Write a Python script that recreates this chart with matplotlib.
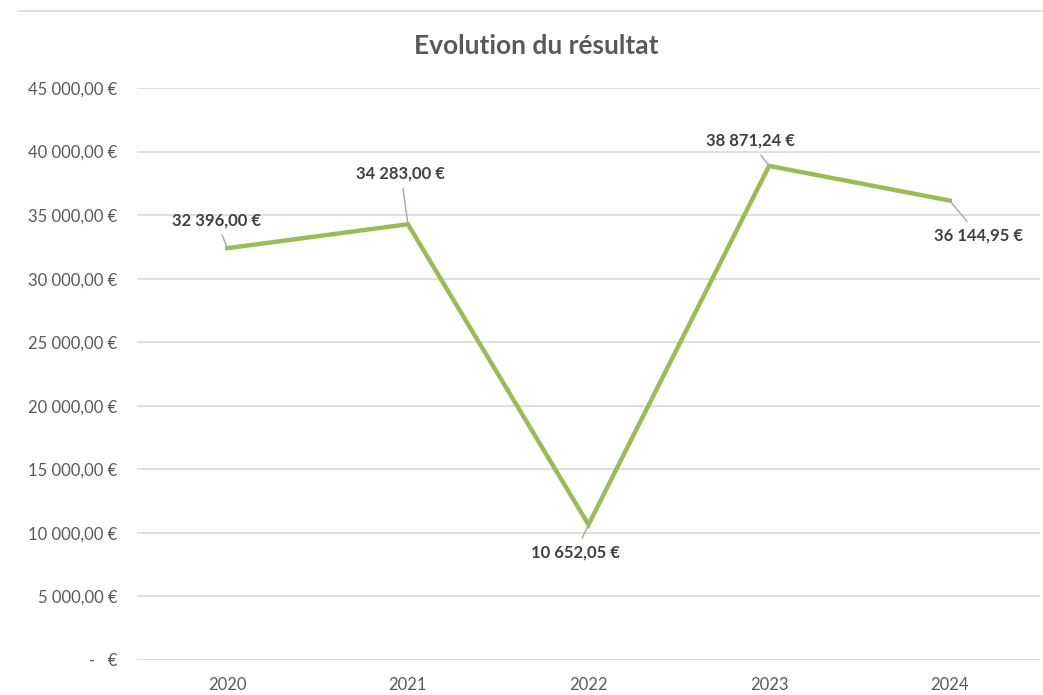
import matplotlib
matplotlib.use("Agg")
import matplotlib.pyplot as plt
from matplotlib.lines import Line2D

plt.rcParams['font.family'] = ['Lato', 'DejaVu Sans']

# data
years = ["2020", "2021", "2022", "2023", "2024"]
resultat = [32396.00, 34283.00, 10652.05, 38871.24, 36144.95]
value_labels = ["32 396,00 €", "34 283,00 €", "10 652,05 €", "38 871,24 €", "36 144,95 €"]
y_ticks = [0, 5000, 10000, 15000, 20000, 25000, 30000, 35000, 40000, 45000]
y_tick_labels = ["-   €", "5 000,00 €", "10 000,00 €", "15 000,00 €", "20 000,00 €",
                 "25 000,00 €", "30 000,00 €", "35 000,00 €", "40 000,00 €", "45 000,00 €"]

# label offsets in pixels (text centre relative to point)
label_offsets = [(-11, 28), (-7, 51), (-13, -28), (-19, 25), (29, -35)]

W, H = 1043, 695
fig = plt.figure(figsize=(W / 100, H / 100), dpi=100)
ax = fig.add_axes([137 / W, 35 / H, (1040 - 137) / W, (660 - 88) / H])

x = list(range(len(years)))
ax.plot(x, resultat, color="#9BBB59", lw=3.2, solid_joinstyle="miter", zorder=3)

for xi, yi, lab, off in zip(x, resultat, value_labels, label_offsets):
    ax.annotate(lab, xy=(xi, yi), xytext=off, textcoords="offset pixels",
                ha="center", va="center", fontsize=12, fontweight="bold",
                color="#404040",
                arrowprops=dict(arrowstyle="-", color="#A6A6A6", lw=1,
                                shrinkA=3, shrinkB=0))

ax.set_xlim(-0.5, len(years) - 0.5)
ax.set_ylim(0, 45000)
ax.set_yticks(y_ticks)
ax.set_yticklabels(y_tick_labels)
ax.set_xticks(x)
ax.set_xticklabels(years)
ax.tick_params(axis="y", length=0, pad=14, labelsize=12, labelcolor="#595959")
ax.tick_params(axis="x", length=0, pad=12, labelsize=12, labelcolor="#595959")
ax.grid(axis="y", color="#D9D9D9", lw=1.2)
ax.set_axisbelow(True)
for s in ax.spines.values():
    s.set_visible(False)

fig.text(536 / W, 1 - 46 / H, "Evolution du résultat", ha="center", va="center",
         fontsize=19, fontweight="bold", color="#595959")

# top border of chart area
fig.add_artist(Line2D([18 / W, 1.0], [1 - 11 / H, 1 - 11 / H], color="#D9D9D9", lw=1.2))

fig.savefig("out.png", dpi=100)
